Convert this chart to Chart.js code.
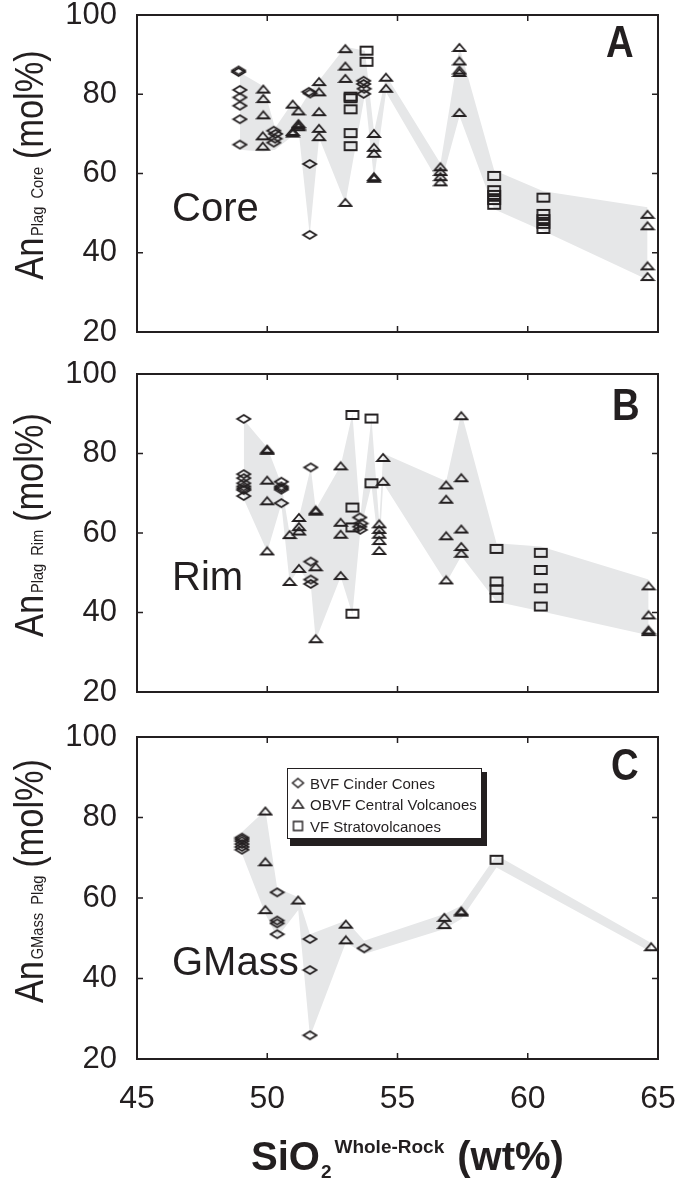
<!DOCTYPE html>
<html>
<head>
<meta charset="utf-8">
<script src="https://cdn.jsdelivr.net/npm/chart.js@4.4.1/dist/chart.umd.min.js"></script>
<style>
html, body { margin: 0; padding: 0; background: #fff; }
body { width: 678px; height: 1183px; position: relative; overflow: hidden; }
canvas { position: absolute; left: 0; }
</style>
</head>
<body>
<canvas id="panelA" width="678" height="355" style="top:0px;width:678px;height:355px"></canvas>
<canvas id="panelB" width="678" height="355" style="top:355px;width:678px;height:355px"></canvas>
<canvas id="panelC" width="678" height="473" style="top:710px;width:678px;height:473px"></canvas>
<script>
// series names
var seriesNames = ['BVF Cinder Cones', 'OBVF Central Volcanoes', 'VF Stratovolcanoes'];

// x = SiO2 whole-rock (wt%), y = An (mol%)
// panel A : plagioclase cores
var coreCinder = [
	[48.9,86.0],[48.9,85.6],[48.95,81.1],[48.95,79.2],[48.95,77.1],[48.95,73.7],[48.95,67.3],
	[50.25,70.8],[50.32,70.0],[50.3,68.8],[50.25,67.8],
	[51.6,80.6],[51.65,80.2],[51.63,62.4],[51.63,44.5],
	[53.7,83.4],[53.7,82.6],[53.72,81.4],[53.7,80.1]
];
var coreCentral = [
	[49.85,81.3],[49.85,78.9],[49.85,74.8],[49.83,69.5],[49.83,66.9],
	[50.98,77.5],[50.98,70.6],[50.98,70.2],
	[51.2,75.8],[51.2,72.6],[51.2,72.2],[51.2,71.8],
	[51.99,83.2],[51.99,80.6],[51.99,75.6],[51.99,71.4],[51.99,69.3],
	[53.0,91.5],[53.0,87.1],[53.0,84.0],[53.0,52.7],
	[54.1,70.1],[54.1,66.6],[54.1,65.1],[54.1,59.2],[54.1,58.8],
	[54.56,84.3],[54.56,81.5],
	[56.65,61.7],[56.65,60.5],[56.65,59.2],[56.65,57.9],
	[57.38,91.8],[57.38,88.4],[57.38,86.1],[57.38,85.5],[57.38,75.4],
	[64.6,49.7],[64.6,46.8],[64.6,36.7],[64.6,34.0]
];
var coreStrato = [
	[53.2,79.4],[53.2,79.0],[53.2,76.2],[53.2,70.2],[53.2,66.9],
	[53.81,91.0],[53.81,88.2],
	[58.71,59.4],[58.71,55.8],[58.71,54.6],[58.71,53.3],[58.71,52.1],
	[60.6,53.9],[60.6,49.8],[60.6,48.5],[60.6,47.3],[60.6,46.0]
];
var coreBandX  = [48.95, 49.85, 50.3, 50.98, 51.2, 51.63, 51.99, 53.0, 53.75, 54.1, 54.56, 56.65, 57.38, 58.71, 60.6, 64.6];
var coreBandHi = [85.5, 82.0, 71.5, 78.0, 76.0, 80.5, 83.5, 92.0, 91.0, 70.5, 84.8, 62.5, 92.0, 60.8, 55.5, 51.5];
var coreBandLo = [66.0, 65.5, 66.0, 69.5, 71.0, 44.5, 69.0, 52.5, 80.0, 58.5, 80.5, 57.0, 74.5, 51.0, 45.5, 33.2];

// panel B : plagioclase rims
var rimCinder = [
	[49.1,88.7],[49.1,74.8],[49.1,73.8],[49.1,72.5],[49.1,71.7],[49.1,71.2],[49.1,70.8],[49.1,69.3],
	[50.54,72.9],[50.54,71.7],[50.54,71.3],[50.54,70.9],[50.54,67.5],
	[51.67,76.5],[51.67,52.8],[51.67,48.3],[51.67,47.2],
	[53.55,63.9],[53.6,62.4],[53.55,61.6],[53.57,60.8]
];
var rimCentral = [
	[50.0,81.1],[50.0,80.8],[50.0,73.3],[50.0,68.1],[50.0,55.5],
	[50.86,59.6],[50.86,47.8],
	[51.22,63.9],[51.22,61.6],[51.22,60.5],[51.22,51.1],
	[51.86,65.8],[51.86,65.5],[51.86,51.5],[51.86,33.4],
	[52.82,76.9],[52.82,62.7],[52.82,59.7],[52.82,49.3],
	[54.3,62.3],[54.3,60.9],[54.3,59.7],[54.3,58.1],[54.3,55.6],
	[54.45,79.0],[54.45,73.0],
	[56.87,72.1],[56.87,68.5],[56.87,59.3],[56.87,48.2],
	[57.45,89.5],[57.45,73.9],[57.45,61.0],[57.45,56.6],[57.45,54.9],
	[64.64,46.7],[64.64,39.4],[64.64,35.6],[64.64,35.2]
];
var rimStrato = [
	[53.27,89.7],[53.27,66.4],[53.27,61.4],[53.27,39.7],
	[54.0,88.8],[54.0,72.5],
	[58.8,56.0],[58.8,47.8],[58.8,45.8],[58.8,43.7],
	[60.5,55.0],[60.5,50.7],[60.5,46.1],[60.5,41.5]
];
var rimBandX  = [49.1, 50.0, 50.54, 50.86, 51.22, 51.67, 51.86, 52.82, 53.27, 53.57, 54.0, 54.3, 54.45, 56.87, 57.45, 58.8, 60.5, 64.64];
var rimBandHi = [88.5, 81.5, 72.3, 59.8, 64.0, 76.5, 66.0, 77.0, 90.0, 64.0, 89.0, 62.5, 80.0, 73.0, 90.3, 57.4, 56.6, 48.3];
var rimBandLo = [68.5, 55.3, 67.3, 47.5, 51.0, 47.0, 33.0, 49.0, 39.5, 60.5, 72.0, 55.3, 72.5, 47.5, 54.2, 42.7, 40.3, 34.3];

// panel C : groundmass plagioclase
var gmCinder = [
	[49.03,75.0],[49.03,74.6],[49.03,74.1],[49.03,73.4],[49.03,72.7],[49.03,72.0],
	[50.38,61.4],[50.38,54.4],[50.38,53.7],[50.38,51.0],
	[51.64,49.8],[51.64,42.1],[51.64,25.9],
	[53.72,47.5]
];
var gmCentral = [
	[49.93,81.6],[49.93,69.0],[49.93,57.1],
	[51.19,59.5],
	[53.02,53.5],[53.02,49.6],
	[56.8,55.2],[56.8,53.4],
	[57.45,56.8],[57.45,56.5],
	[64.74,47.9]
];
var gmStrato = [[58.8,69.5]];
var gmBandX  = [49.03, 49.93, 50.38, 51.19, 51.64, 53.02, 53.72, 56.8, 57.45, 58.8, 64.74];
var gmBandHi = [76.4, 81.8, 62.5, 60.2, 51.0, 54.4, 49.4, 56.0, 58.1, 70.6, 48.8];
var gmBandLo = [71.0, 56.0, 50.2, 57.0, 25.5, 49.0, 46.1, 52.3, 54.8, 67.6, 46.6];

var INK = '#231f20';
var BAND = '#e6e7e8';
var FONT = '"Liberation Sans", Arial, Helvetica, sans-serif';
var PLOT_LEFT = 137, PLOT_RIGHT = 658;

// squashed open markers, as in the printed figure
function marker(kind, w, h, lw) {
	var c = document.createElement('canvas');
	c.width = w + 4; c.height = h + 4;
	var g = c.getContext('2d');
	var x0 = 2, y0 = 2;
	g.strokeStyle = INK;
	g.lineWidth = lw;
	g.beginPath();
	if (kind == 'diamond') {
		g.moveTo(x0 + w / 2, y0); g.lineTo(x0 + w, y0 + h / 2); g.lineTo(x0 + w / 2, y0 + h); g.lineTo(x0, y0 + h / 2);
	} else if (kind == 'triangle') {
		g.moveTo(x0 + w / 2, y0); g.lineTo(x0 + w, y0 + h); g.lineTo(x0, y0 + h);
	} else {
		g.rect(x0, y0, w, h);
	}
	g.closePath();
	g.stroke();
	return c;
}
var markers = [marker('diamond', 13, 8, 1.8), marker('triangle', 12, 7, 1.8), marker('square', 12, 8, 1.8)];
var legendMarkers = [marker('diamond', 11, 9, 1.4), marker('triangle', 11, 8, 1.4), marker('square', 9, 9, 1.4)];

function pts(a) {
	return a.map(function(p) { return {x: p[0], y: p[1]}; });
}
function bandPts(xs, ys) {
	return xs.map(function(x, i) { return {x: x, y: ys[i]}; });
}

function drawYTitle(c, cx, cy, sub) {
	var big = '40px ' + FONT, small = '17px ' + FONT;
	c.save();
	c.translate(cx, cy);
	c.rotate(-Math.PI / 2);
	c.scale(0.86, 1);
	c.fillStyle = INK;
	c.textAlign = 'left';
	c.textBaseline = 'alphabetic';
	c.font = big; var wAn = c.measureText('An').width; var wMol = c.measureText('(mol%)').width;
	c.font = small; var wSub = c.measureText(sub).width;
	var total = wAn + 2 + wSub + 9 + wMol;
	var x = -total / 2;
	c.font = big; c.fillText('An', x, 0); x += wAn + 2;
	c.font = small; c.fillText(sub, x, 0); x += wSub + 9;
	c.font = big; c.fillText('(mol%)', x, 0);
	c.restore();
}

function drawLegend(chart, c) {
	c.fillStyle = INK;
	c.fillRect(290, 772, 197, 74);
	c.fillStyle = '#fff';
	c.fillRect(287, 768, 195, 71);
	c.strokeStyle = INK;
	c.lineWidth = 1;
	c.strokeRect(287.5, 768.5, 194, 70);
	var rows = [783, 804, 826];
	c.font = '15px ' + FONT;
	c.fillStyle = INK;
	c.textAlign = 'left';
	c.textBaseline = 'alphabetic';
	for (var i = 0; i < 3; i++) {
		var m = legendMarkers[i];
		c.drawImage(m, 298 - m.width / 2, rows[i] - m.height / 2);
		c.fillText(chart.data.datasets[i].label, 310, rows[i] + 5.5);
	}
}

function drawXTitle(c) {
	var x = 251, base = 1170;
	c.fillStyle = INK;
	c.textAlign = 'left';
	c.textBaseline = 'alphabetic';
	c.font = 'bold 40px ' + FONT;
	c.fillText('SiO', x, base);
	x += c.measureText('SiO').width + 1;
	c.font = 'bold 19px ' + FONT;
	c.fillText('2', x, base + 8);
	x += c.measureText('2').width + 3;
	c.fillText('Whole-Rock', x, base - 17);
	x += c.measureText('Whole-Rock').width + 13;
	c.font = 'bold 40px ' + FONT;
	c.fillText('(wt%)', x, base);
}

function decor(pageTop, look) {
	return {
		id: 'decor',
		afterDatasetsDraw: function(chart) {
			var c = chart.ctx, a = chart.chartArea, xs = chart.scales.x, ys = chart.scales.y;
			c.save();
			c.strokeStyle = INK;
			c.lineWidth = 2;
			c.strokeRect(a.left, a.top, a.right - a.left, a.bottom - a.top);
			c.lineWidth = 1.5;
			c.beginPath();
			xs.ticks.forEach(function(t) {
				if (t.value <= xs.min || t.value >= xs.max) return;
				var px = xs.getPixelForValue(t.value);
				c.moveTo(px, a.bottom); c.lineTo(px, a.bottom - 6);
				c.moveTo(px, a.top); c.lineTo(px, a.top + 6);
			});
			ys.ticks.forEach(function(t) {
				if (t.value <= ys.min || t.value >= ys.max) return;
				var py = ys.getPixelForValue(t.value);
				c.moveTo(a.left, py); c.lineTo(a.left + 6, py);
				c.moveTo(a.right, py); c.lineTo(a.right - 6, py);
			});
			c.stroke();
			c.restore();
		},
		afterDraw: function(chart) {
			var c = chart.ctx;
			c.save();
			c.translate(0, -pageTop);
			c.fillStyle = INK;
			c.textAlign = 'left';
			c.textBaseline = 'alphabetic';
			// panel letter
			c.save();
			c.translate(look.letterX, look.letterY);
			c.scale(0.87, 1);
			c.font = 'bold 44px ' + FONT;
			c.fillText(look.letter, 0, 0);
			c.restore();
			// sample type
			c.font = '40px ' + FONT;
			c.fillText(look.word, 172, look.wordY);
			drawYTitle(c, 43, look.titleY, look.sub);
			if (look.legend) drawLegend(chart, c);
			if (look.xTitle) drawXTitle(c);
			c.restore();
		}
	};
}

function panel(id, pageTop, plotTop, plotBottom, showX, sets, band, look) {
	var cv = document.getElementById(id);
	var H = cv.height;
	var datasets = sets.map(function(s, i) {
		return {
			label: seriesNames[i],
			data: pts(s),
			pointStyle: markers[i],
			pointRadius: 5,
			pointHoverRadius: 5
		};
	});
	datasets.push({
		type: 'line', label: 'band', data: bandPts(band[0], band[1]),
		showLine: true, borderWidth: 0, borderColor: 'rgba(0,0,0,0)', backgroundColor: BAND,
		pointRadius: 0, tension: 0, fill: '+1'
	});
	datasets.push({
		type: 'line', label: 'band-lo', data: bandPts(band[0], band[2]),
		showLine: true, borderWidth: 0, borderColor: 'rgba(0,0,0,0)', backgroundColor: BAND,
		pointRadius: 0, tension: 0, fill: false
	});
	return new Chart(cv, {
		type: 'scatter',
		data: { datasets: datasets },
		options: {
			responsive: false,
			animation: false,
			events: [],
			layout: { padding: { top: plotTop - pageTop, right: 678 - PLOT_RIGHT, bottom: 0, left: 0 } },
			plugins: {
				legend: { display: false },
				tooltip: { enabled: false },
				filler: { drawTime: 'beforeDatasetsDraw' }
			},
			scales: {
				x: {
					type: 'linear', min: 45, max: 65,
					ticks: { stepSize: 5, display: showX, color: INK, padding: 21, font: { family: FONT, size: 32 } },
					grid: { display: false, drawTicks: false },
					border: { display: false },
					afterFit: function(s) { s.height = H - (plotBottom - pageTop); s.paddingLeft = 0; s.paddingRight = 0; }
				},
				y: {
					type: 'linear', min: 20, max: 100,
					ticks: { stepSize: 20, color: INK, padding: 20, font: { family: FONT, size: 31 } },
					grid: { display: false, drawTicks: false },
					border: { display: false },
					afterFit: function(s) { s.width = PLOT_LEFT; s.paddingTop = 0; s.paddingBottom = 0; }
				}
			}
		},
		plugins: [decor(pageTop, look)]
	});
}

panel('panelA', 0, 15, 332, false,
	[coreCinder, coreCentral, coreStrato], [coreBandX, coreBandHi, coreBandLo],
	{ letter: 'A', letterX: 606, letterY: 57, word: 'Core', wordY: 221, sub: 'Plag  Core', titleY: 165 });
panel('panelB', 355, 374, 692, false,
	[rimCinder, rimCentral, rimStrato], [rimBandX, rimBandHi, rimBandLo],
	{ letter: 'B', letterX: 612, letterY: 420, word: 'Rim', wordY: 590, sub: 'Plag  Rim', titleY: 525 });
panel('panelC', 710, 737, 1059, true,
	[gmCinder, gmCentral, gmStrato], [gmBandX, gmBandHi, gmBandLo],
	{ letter: 'C', letterX: 611, letterY: 780, word: 'GMass', wordY: 975, sub: 'GMass  Plag', titleY: 881, legend: true, xTitle: true });
</script>
</body>
</html>
